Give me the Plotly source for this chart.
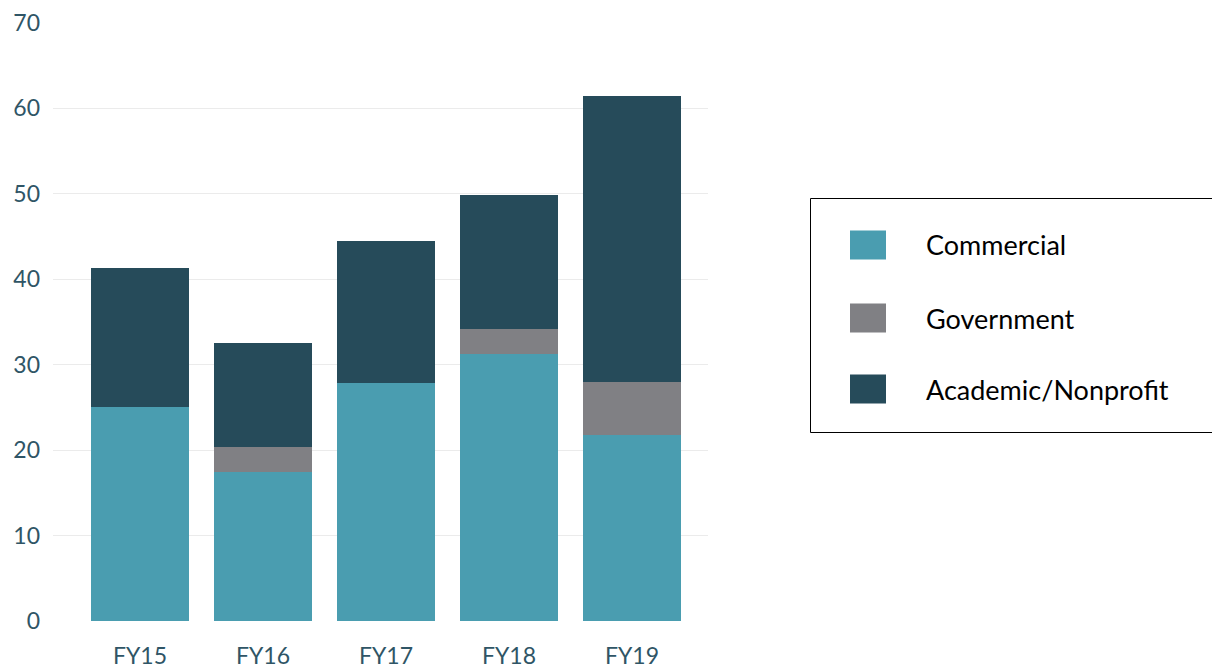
import plotly.graph_objects as go

categories = ["FY15", "FY16", "FY17", "FY18", "FY19"]
commercial = [25.0, 17.5, 27.9, 31.3, 21.8]
government = [0.0, 2.9, 0.0, 2.9, 6.2]
academic = [16.3, 12.2, 16.6, 15.7, 33.4]
series_names = ["Commercial", "Government", "Academic/Nonprofit"]
colors = ["#4A9DB0", "#808084", "#264B5A"]
y_ticks = [0, 10, 20, 30, 40, 50, 60, 70]

W, H = 1212, 670
L, R, T, B = 53, 708, 23, 621

fig = go.Figure()
for name, vals, c in zip(series_names, [commercial, government, academic], colors):
    fig.add_trace(go.Bar(x=list(range(len(categories))), y=vals, name=name,
                         marker=dict(color=c, line=dict(width=0)), showlegend=False))

def px_x(p):
    return (p - L) / (R - L)

def px_y(p):
    return (B - p) / (B - T)

shapes = []
annotations = []
# legend box
shapes.append(dict(type="rect", xref="paper", yref="paper",
                   x0=px_x(810.5), x1=px_x(1215), y0=px_y(432.5), y1=px_y(198.5),
                   line=dict(color="#000000", width=1), fillcolor="rgba(0,0,0,0)"))
centers = [245, 318, 389]
for name, c, cy in zip(series_names, colors, centers):
    shapes.append(dict(type="rect", xref="paper", yref="paper",
                       x0=px_x(850), x1=px_x(886), y0=px_y(cy + 14.5), y1=px_y(cy - 14.5),
                       line=dict(width=0), fillcolor=c))
    annotations.append(dict(xref="paper", yref="paper", x=px_x(924), y=px_y(cy),
                            text=name, showarrow=False, xanchor="left", yanchor="middle",
                            font=dict(family="Lato, Noto Sans", size=27, color="#000000")))

fig.update_layout(
    width=W, height=H,
    margin=dict(l=L, r=W - R, t=T, b=H - B, pad=0, autoexpand=False),
    paper_bgcolor="white", plot_bgcolor="white",
    barmode="stack", bargap=0.203,
    shapes=shapes, annotations=annotations,
    font=dict(family="Lato, Noto Sans", color="#2F5566"),
)
fig.update_xaxes(range=[-0.707, 4.618], tickmode="array",
                 tickvals=list(range(len(categories))), ticktext=categories,
                 showgrid=False, zeroline=False, showline=False,
                 tickfont=dict(size=23, color="#2F5566"), ticks="",
                 ticklabelstandoff=19, automargin=False)
fig.update_yaxes(range=[0, 70], tickmode="array", tickvals=y_ticks,
                 showgrid=True, gridcolor="#EBEBEB", gridwidth=1,
                 zeroline=False, showline=False, ticks="",
                 tickfont=dict(size=23, color="#2F5566"),
                 ticklabelstandoff=12, automargin=False)

fig.write_html("out.html", config={"displayModeBar": False},
               post_script="document.body.style.margin='0';document.body.style.overflow='hidden';")
